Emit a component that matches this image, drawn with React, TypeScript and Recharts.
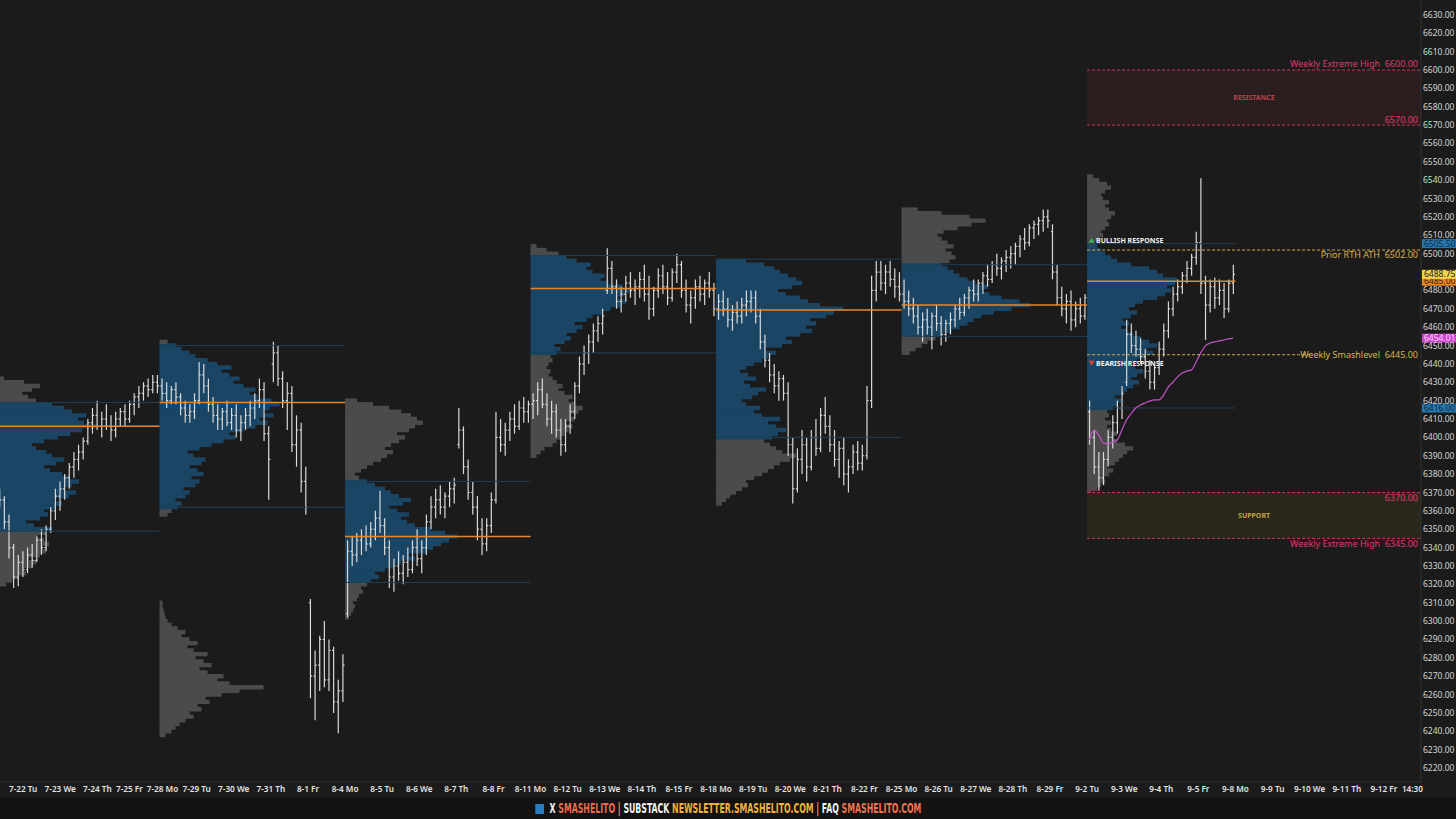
import React from 'react';
import {
  ComposedChart, XAxis, YAxis, Bar, Line,
  ReferenceArea, ReferenceLine, ReferenceDot,
} from 'recharts';

type OHLC = [number, number, number, number];

const BARS_PER_DAY = 8;
const FONT = '"Noto Sans", "Open Sans", sans-serif';

// x axis: one label per session (7-21 is scrolled off the left edge)
const dayLabels = [
  '7-21 Mo', '7-22 Tu', '7-23 We', '7-24 Th', '7-25 Fr',
  '7-28 Mo', '7-29 Tu', '7-30 We', '7-31 Th', '8-1 Fr',
  '8-4 Mo', '8-5 Tu', '8-6 We', '8-7 Th', '8-8 Fr',
  '8-11 Mo', '8-12 Tu', '8-13 We', '8-14 Th', '8-15 Fr',
  '8-18 Mo', '8-19 Tu', '8-20 We', '8-21 Th', '8-22 Fr',
  '8-25 Mo', '8-26 Tu', '8-27 We', '8-28 Th', '8-29 Fr',
  '9-2 Tu', '9-3 We', '9-4 Th', '9-5 Fr',
  '9-8 Mo', '9-9 Tu', '9-10 We', '9-11 Th', '9-12 Fr',
];
const lastTickLabel = '14:30';
const lastTickDay = 38 + 5 / 6.5;

// 6490 sits under the last-price tag, so it is not listed
const yTicks = [
  6220, 6230, 6240, 6250, 6260, 6270, 6280, 6290, 6300, 6310, 6320, 6330, 6340, 6350,
  6360, 6370, 6380, 6390, 6400, 6410, 6420, 6430, 6440, 6450, 6460, 6470, 6480,
  6500, 6510, 6520, 6530, 6540, 6550, 6560, 6570, 6580, 6590, 6600, 6610, 6620, 6630,
];

// bars: [open, high, low, close], one inner list per session
const weekJul21: OHLC[][] = [
  [[6368, 6372, 6362, 6366], [6366, 6368, 6350, 6354], [6354, 6358, 6334, 6340]],
  [[6340, 6342, 6318, 6324], [6324, 6336, 6319, 6332], [6332, 6338, 6324, 6328], [6328, 6340, 6326, 6336], [6336, 6342, 6329, 6333], [6333, 6346, 6332, 6344], [6344, 6350, 6336, 6340], [6340, 6352, 6338, 6350]],
  [[6350, 6362, 6348, 6360], [6360, 6372, 6355, 6368], [6368, 6376, 6360, 6372], [6372, 6380, 6366, 6378], [6378, 6386, 6372, 6384], [6384, 6392, 6378, 6388], [6388, 6396, 6382, 6392], [6392, 6400, 6388, 6398]],
  [[6398, 6410, 6396, 6408], [6408, 6416, 6402, 6412], [6412, 6420, 6404, 6406], [6406, 6414, 6400, 6410], [6410, 6418, 6404, 6406], [6406, 6412, 6398, 6404], [6404, 6414, 6400, 6410], [6410, 6416, 6406, 6414]],
  [[6414, 6418, 6406, 6410], [6410, 6420, 6408, 6418], [6418, 6424, 6412, 6422], [6422, 6428, 6416, 6424], [6424, 6430, 6420, 6428], [6428, 6432, 6422, 6426], [6426, 6434, 6424, 6430], [6430, 6434, 6424, 6428]],
];
const weekJul28: OHLC[][] = [
  [[6428, 6432, 6420, 6424], [6424, 6430, 6416, 6420], [6420, 6428, 6418, 6426], [6426, 6430, 6418, 6422], [6422, 6424, 6412, 6416], [6416, 6420, 6408, 6412], [6412, 6418, 6408, 6414], [6414, 6424, 6410, 6420]],
  [[6420, 6441, 6418, 6434], [6434, 6440, 6424, 6428], [6428, 6432, 6414, 6418], [6418, 6422, 6408, 6412], [6412, 6418, 6404, 6410], [6410, 6416, 6404, 6414], [6414, 6420, 6406, 6408], [6408, 6416, 6404, 6412]],
  [[6412, 6418, 6400, 6404], [6404, 6412, 6398, 6408], [6408, 6416, 6404, 6412], [6412, 6420, 6406, 6416], [6416, 6424, 6410, 6420], [6420, 6432, 6416, 6426], [6426, 6430, 6398, 6402], [6402, 6406, 6366, 6388]],
  [[6440, 6452, 6430, 6446], [6446, 6450, 6428, 6432], [6432, 6436, 6416, 6420], [6420, 6430, 6404, 6424], [6424, 6428, 6392, 6396], [6396, 6412, 6384, 6404], [6404, 6408, 6370, 6376], [6376, 6384, 6358, 6362]],
  [[6310, 6312, 6258, 6270], [6270, 6284, 6246, 6276], [6276, 6292, 6262, 6290], [6290, 6300, 6264, 6268], [6268, 6290, 6262, 6284], [6284, 6286, 6250, 6256], [6256, 6268, 6239, 6262], [6262, 6282, 6256, 6276]],
];
const weekAug4: OHLC[][] = [
  [[6304, 6344, 6302, 6338], [6338, 6346, 6330, 6336], [6336, 6348, 6332, 6344], [6344, 6350, 6336, 6346], [6346, 6352, 6338, 6342], [6342, 6354, 6340, 6350], [6350, 6360, 6344, 6356], [6356, 6371, 6348, 6352]],
  [[6352, 6356, 6336, 6340], [6340, 6344, 6318, 6324], [6324, 6334, 6316, 6330], [6330, 6338, 6322, 6326], [6326, 6336, 6320, 6332], [6332, 6340, 6324, 6328], [6328, 6344, 6326, 6340], [6340, 6350, 6330, 6334]],
  [[6334, 6344, 6326, 6340], [6340, 6358, 6336, 6354], [6354, 6368, 6350, 6362], [6362, 6372, 6356, 6366], [6366, 6374, 6358, 6362], [6362, 6370, 6356, 6368], [6368, 6376, 6362, 6372], [6372, 6378, 6364, 6374]],
  [[6396, 6416, 6394, 6404], [6404, 6406, 6380, 6384], [6384, 6388, 6366, 6370], [6370, 6376, 6358, 6362], [6362, 6368, 6344, 6350], [6350, 6356, 6336, 6342], [6342, 6356, 6338, 6352], [6352, 6370, 6348, 6366]],
  [[6366, 6414, 6364, 6400], [6400, 6410, 6392, 6396], [6396, 6408, 6390, 6404], [6404, 6414, 6398, 6410], [6410, 6418, 6402, 6406], [6406, 6420, 6404, 6416], [6416, 6422, 6408, 6414], [6414, 6420, 6408, 6418]],
];
const weekAug11: OHLC[][] = [
  [[6418, 6424, 6410, 6420], [6420, 6430, 6412, 6426], [6426, 6432, 6416, 6418], [6418, 6424, 6406, 6410], [6410, 6420, 6402, 6414], [6414, 6418, 6400, 6404], [6404, 6410, 6390, 6396], [6396, 6410, 6392, 6406]],
  [[6406, 6418, 6402, 6414], [6414, 6430, 6410, 6428], [6428, 6444, 6424, 6440], [6440, 6450, 6434, 6446], [6446, 6456, 6440, 6452], [6452, 6462, 6446, 6458], [6458, 6466, 6452, 6462], [6462, 6470, 6456, 6466]],
  [[6480, 6503, 6478, 6492], [6492, 6496, 6478, 6482], [6482, 6486, 6470, 6474], [6474, 6482, 6468, 6478], [6478, 6488, 6474, 6484], [6484, 6490, 6476, 6480], [6480, 6486, 6472, 6482], [6482, 6490, 6476, 6486]],
  [[6486, 6494, 6474, 6478], [6478, 6488, 6464, 6470], [6470, 6482, 6466, 6480], [6480, 6492, 6476, 6488], [6488, 6494, 6478, 6482], [6482, 6490, 6472, 6476], [6476, 6492, 6474, 6490], [6490, 6500, 6484, 6494]],
  [[6494, 6496, 6476, 6480], [6480, 6486, 6468, 6472], [6472, 6480, 6462, 6476], [6476, 6486, 6470, 6482], [6482, 6488, 6474, 6478], [6478, 6486, 6472, 6484], [6484, 6490, 6476, 6480], [6480, 6484, 6466, 6470]],
];
const weekAug18: OHLC[][] = [
  [[6470, 6478, 6464, 6474], [6474, 6480, 6466, 6470], [6470, 6476, 6460, 6464], [6464, 6472, 6458, 6468], [6468, 6474, 6462, 6466], [6466, 6476, 6462, 6472], [6472, 6480, 6466, 6474], [6474, 6480, 6468, 6476]],
  [[6476, 6480, 6462, 6466], [6466, 6470, 6448, 6452], [6452, 6456, 6438, 6442], [6442, 6446, 6430, 6434], [6434, 6440, 6424, 6428], [6428, 6436, 6420, 6432], [6432, 6434, 6420, 6424], [6424, 6430, 6390, 6396]],
  [[6396, 6400, 6364, 6372], [6372, 6394, 6370, 6388], [6388, 6404, 6380, 6396], [6396, 6400, 6376, 6384], [6384, 6404, 6382, 6400], [6400, 6410, 6390, 6394], [6394, 6416, 6392, 6412], [6412, 6422, 6402, 6406]],
  [[6406, 6412, 6392, 6396], [6396, 6404, 6384, 6388], [6388, 6398, 6378, 6394], [6394, 6400, 6374, 6380], [6380, 6388, 6370, 6384], [6384, 6396, 6380, 6392], [6392, 6398, 6382, 6386], [6386, 6396, 6382, 6390]],
  [[6390, 6428, 6388, 6420], [6420, 6488, 6416, 6480], [6480, 6496, 6474, 6490], [6490, 6496, 6480, 6484], [6484, 6494, 6478, 6490], [6490, 6496, 6482, 6486], [6486, 6492, 6476, 6482], [6482, 6490, 6474, 6478]],
];
const weekAug25: OHLC[][] = [
  [[6478, 6486, 6470, 6474], [6474, 6480, 6466, 6470], [6470, 6476, 6462, 6466], [6466, 6472, 6456, 6460], [6460, 6468, 6452, 6464], [6464, 6470, 6456, 6460], [6460, 6468, 6448, 6466], [6466, 6472, 6458, 6462]],
  [[6462, 6466, 6450, 6456], [6456, 6464, 6452, 6462], [6462, 6468, 6456, 6464], [6464, 6472, 6460, 6470], [6470, 6476, 6464, 6468], [6468, 6478, 6466, 6476], [6476, 6482, 6470, 6480], [6480, 6486, 6474, 6478]],
  [[6478, 6486, 6474, 6484], [6484, 6490, 6478, 6488], [6488, 6494, 6482, 6486], [6486, 6496, 6484, 6494], [6494, 6500, 6488, 6492], [6492, 6498, 6486, 6496], [6496, 6502, 6490, 6498], [6498, 6504, 6492, 6500]],
  [[6500, 6506, 6494, 6504], [6504, 6510, 6498, 6508], [6508, 6514, 6502, 6506], [6506, 6516, 6504, 6514], [6514, 6518, 6508, 6516], [6516, 6520, 6510, 6518], [6518, 6524, 6512, 6520], [6520, 6524, 6514, 6518]],
  [[6512, 6516, 6486, 6490], [6490, 6494, 6472, 6476], [6476, 6482, 6466, 6470], [6470, 6478, 6462, 6474], [6474, 6480, 6458, 6464], [6464, 6474, 6460, 6470], [6470, 6476, 6462, 6466], [6466, 6478, 6464, 6476]],
];
const weekSep2: OHLC[][] = [
  [[6414, 6420, 6396, 6400], [6400, 6404, 6380, 6384], [6384, 6392, 6371, 6378], [6378, 6392, 6374, 6388], [6388, 6404, 6384, 6400], [6400, 6412, 6394, 6408], [6408, 6420, 6402, 6416], [6416, 6428, 6410, 6424]],
  [[6430, 6464, 6428, 6456], [6456, 6462, 6446, 6450], [6450, 6458, 6444, 6448], [6448, 6454, 6440, 6444], [6444, 6448, 6432, 6436], [6436, 6442, 6426, 6430], [6430, 6440, 6426, 6438], [6438, 6452, 6434, 6448]],
  [[6448, 6462, 6444, 6458], [6458, 6474, 6454, 6470], [6470, 6482, 6466, 6478], [6478, 6486, 6474, 6482], [6482, 6490, 6478, 6488], [6488, 6496, 6484, 6492], [6492, 6500, 6488, 6498], [6498, 6512, 6494, 6506]],
  [[6506, 6541, 6478, 6484], [6484, 6488, 6453, 6472], [6472, 6486, 6468, 6482], [6482, 6487, 6470, 6476], [6476, 6486, 6472, 6480], [6480, 6484, 6465, 6470], [6470, 6486, 6468, 6484], [6484, 6494, 6478, 6488.75]],
];

const weeks = [weekJul21, weekJul28, weekAug4, weekAug11, weekAug18, weekAug25, weekSep2];
const weekStartDay = [0, 5, 10, 15, 20, 25, 30];
const weekLength = [5, 5, 5, 5, 5, 5, 4];

// anchored vwap from the 9-2 open, one value per bar
const vwapSep2 = [
  6398.6, 6404.0, 6401.3, 6397.0, 6396.5, 6397.5, 6398.6, 6404.0,
  6409.5, 6413.0, 6416.0, 6417.6, 6418.7, 6419.8, 6420.4, 6420.4,
  6423.0, 6427.4, 6430.0, 6432.9, 6435.0, 6436.1, 6436.7, 6441.0,
  6446.0, 6449.8, 6451.4, 6452.0, 6452.5, 6453.0, 6453.6, 6454.01,
];

// weekly volume profiles, 2-point rows from the low price upward
const PROFILE_STEP = 2;
const volJul21 = [25, 32, 38, 45, 52, 48, 58, 62, 55, 66, 72, 68, 75, 70, 64, 72, 78, 60, 52, 66, 74, 70, 82, 88, 80, 95, 102, 90, 98, 105, 96, 88, 76, 70, 82, 90, 78, 72, 62, 58, 70, 84, 96, 108, 122, 110, 104, 112, 98, 90, 78, 62, 54, 48, 58, 66, 50, 30];
const volJul28 = [8, 12, 18, 22, 16, 26, 30, 24, 36, 40, 32, 44, 38, 30, 42, 46, 34, 28, 40, 52, 64, 76, 70, 84, 96, 108, 100, 114, 104, 110, 120, 112, 98, 90, 96, 84, 74, 80, 70, 62, 72, 58, 48, 36, 30, 22, 16, 8];
const volJul28Low = [6, 12, 16, 20, 26, 34, 30, 42, 38, 50, 46, 62, 80, 104, 70, 58, 64, 48, 40, 52, 44, 36, 48, 34, 28, 38, 30, 22, 26, 18, 12, 8, 6, 5, 4, 3, 3];
const volAug4 = [4, 6, 8, 10, 8, 12, 14, 18, 16, 22, 26, 34, 30, 40, 48, 56, 70, 64, 82, 88, 96, 104, 112, 100, 86, 70, 62, 56, 64, 52, 44, 58, 66, 54, 46, 40, 30, 22, 14, 10, 16, 22, 28, 36, 42, 48, 40, 46, 54, 60, 52, 64, 70, 78, 72, 66, 56, 44, 28, 12];
const volAug11 = [6, 10, 14, 22, 26, 30, 34, 38, 42, 36, 44, 40, 48, 52, 44, 38, 42, 34, 28, 32, 26, 22, 18, 20, 16, 18, 22, 20, 26, 30, 24, 34, 40, 36, 46, 52, 44, 56, 62, 72, 80, 90, 96, 88, 94, 100, 92, 78, 70, 74, 62, 56, 60, 46, 36, 28, 16, 6];
const volAug18 = [6, 10, 14, 20, 26, 32, 30, 38, 46, 52, 58, 64, 74, 80, 66, 60, 54, 48, 56, 62, 70, 60, 52, 64, 46, 38, 44, 30, 26, 36, 42, 50, 34, 28, 40, 32, 24, 30, 38, 46, 54, 60, 50, 66, 76, 70, 84, 96, 90, 100, 94, 110, 118, 127, 104, 92, 84, 70, 62, 76, 86, 80, 72, 64, 58, 48, 30];
const volAug25 = [8, 14, 20, 26, 34, 42, 50, 58, 66, 72, 80, 92, 110, 129, 118, 100, 88, 80, 86, 74, 66, 58, 52, 46, 40, 48, 54, 50, 44, 52, 46, 40, 36, 42, 56, 70, 84, 68, 40, 16];
const volSep2 = [4, 10, 14, 18, 16, 22, 26, 20, 28, 32, 36, 40, 46, 38, 30, 26, 30, 24, 20, 24, 18, 22, 20, 26, 30, 34, 28, 36, 40, 46, 52, 44, 50, 56, 48, 42, 50, 58, 66, 60, 70, 62, 54, 46, 40, 34, 42, 36, 44, 50, 42, 48, 56, 70, 78, 84, 80, 88, 90, 76, 70, 62, 44, 30, 24, 18, 14, 10, 8, 12, 16, 14, 18, 22, 20, 24, 28, 22, 18, 22, 16, 14, 18, 24, 20, 12, 6];

const profileVols = [volJul21, volJul28, volJul28Low, volAug4, volAug11, volAug18, volAug25, volSep2];
const profileLow = [6318, 6358, 6238, 6302, 6390, 6364, 6446, 6370];
const profileWeek = [0, 1, 1, 2, 3, 4, 5, 6];

// weekly value area and point of control
const weekPoc = [6406, 6419, 6346, 6481, 6469.3, 6472, 6485];
const weekVah = [6419, 6450, 6376, 6499, 6497, 6494, 6505.5];
const weekVal = [6349, 6362, 6321, 6446, 6400, 6455, 6416];

// volume units to bar slots (1 unit ~ 1px of a 37px session)
const VOL_TO_SLOTS = BARS_PER_DAY / 37.1;

const slot = (day: number) => day * BARS_PER_DAY;
const X_MIN = 5.6;
const X_MAX = slot(39);

const data: any[] = [];
let sepIdx = 0;
weeks.forEach((wk, w) => {
  wk.forEach((session, d) => {
    const offset = BARS_PER_DAY - session.length;
    session.forEach(([o, h, l, c], i) => {
      const row: any = { x: slot(weekStartDay[w] + d) + offset + i + 0.5, range: [l, h], o, c };
      if (w === 6) row.vwap = vwapSep2[sepIdx++];
      data.push(row);
    });
  });
});

const xTicks = [...dayLabels.map((_, d) => slot(d)).filter((s) => s > X_MIN), slot(lastTickDay)];
const fmtX = (v: number) => (Math.abs(v - slot(lastTickDay)) < 0.01 ? lastTickLabel : dayLabels[Math.round(v / BARS_PER_DAY)]);

// the platform spreads the first-week labels a little to the right of the session starts
const labelNudge: Record<number, number> = { 1: 12, 2: 12, 3: 12, 4: 7, 5: 3 };

function XTick(props: any) {
  const { x, y, payload } = props;
  const day = Math.round(payload.value / BARS_PER_DAY);
  const nudge = Number.isInteger(payload.value / BARS_PER_DAY) ? labelNudge[day] || 0 : 0;
  return (
    <text x={x + nudge} y={y} dy="0.71em" textAnchor="middle" fill="#e4e4e4" fontSize={8.2} fontWeight={600} fontFamily={FONT}>
      {fmtX(payload.value)}
    </text>
  );
}

function OhlcShape(props: any) {
  const { x, y, width, height, payload } = props;
  if (!payload) return null;
  const [lo, hi] = payload.range;
  const top = Math.min(y, y + height);
  const bottom = Math.max(y, y + height);
  const k = (bottom - top) / (hi - lo);
  const cx = x + width / 2;
  const yo = top + (hi - payload.o) * k;
  const yc = top + (hi - payload.c) * k;
  return (
    <g stroke="#d9d9d9" strokeWidth={1.2}>
      <line x1={cx} x2={cx} y1={top} y2={bottom} />
      <line x1={cx - 1.6} x2={cx} y1={yo} y2={yo} />
      <line x1={cx} x2={cx + 1.6} y1={yc} y2={yc} />
    </g>
  );
}

const priceTag = (text: string, bg: string, fg: string) => (props: any) => {
  const vb = props.viewBox;
  const x = vb.x + vb.width + 1;
  return (
    <g>
      <rect x={x} y={vb.y - 4.5} width={34} height={9} fill={bg} />
      <text x={x + 2} y={vb.y + 3} fontSize={8.5} fill={fg} fontFamily={FONT}>{text}</text>
    </g>
  );
};

const lineNote = (text: string, color: string, dy: number) => (props: any) => {
  const vb = props.viewBox;
  return (
    <text x={vb.x + vb.width - 3} y={vb.y + dy} textAnchor="end" fontSize={9} fill={color} fontFamily={FONT}>
      {text}
    </text>
  );
};

const zoneNote = (text: string, color: string) => (props: any) => {
  const vb = props.viewBox;
  return (
    <text x={vb.x + vb.width / 2} y={vb.y + vb.height / 2 + 2.5} textAnchor="middle" fontSize={7} fontWeight={700} fill={color} fontFamily={FONT}>
      {text}
    </text>
  );
};

const responseNote = (text: string, up: boolean) => (props: any) => {
  const { cx, cy } = props;
  const tri = up
    ? `M${cx + 1.5},${cy + 2.5} L${cx + 4.5},${cy - 2.5} L${cx + 7.5},${cy + 2.5} Z`
    : `M${cx + 1.5},${cy - 2.5} L${cx + 4.5},${cy + 2.5} L${cx + 7.5},${cy - 2.5} Z`;
  return (
    <g>
      <path d={tri} fill={up ? '#3fae5a' : '#e0443a'} />
      <text x={cx + 9} y={cy + 2.5} fontSize={7} fontWeight={700} fill="#f2f2f2" fontFamily={FONT}>{text}</text>
    </g>
  );
};

const RED = '#e2386c';
const RED_LINE = '#c8375f';
const GOLD = '#d9b44f';
const GOLD_LINE = '#cfae48';
const VA_BLUE = '#1a4564';
const OUT_GRAY = '#4b4b4b';
const EDGE_BLUE = '#1d3f58';
const POC_ORANGE = '#e8872a';

export default function App() {
  const sepStart = slot(30);
  return (
    <div style={{ position: 'absolute', left: 0, top: 0, width: 1456, height: 819, background: '#1b1b1b', overflow: 'hidden' }}>
      <ComposedChart width={1456} height={797} data={data} margin={{ top: 0, right: 0, bottom: 0, left: 0 }}>
        <XAxis
          dataKey="x" type="number" domain={[X_MIN, X_MAX]} allowDataOverflow
          ticks={xTicks} interval={0}
          height={15} tickSize={0} tickMargin={4}
          axisLine={{ stroke: '#303030' }} tickLine={false}
          tick={<XTick />}
        />
        <YAxis
          orientation="right" type="number" domain={[6212.4, 6638.1]} allowDataOverflow
          ticks={yTicks} interval={0} tickFormatter={(v: number) => v.toFixed(2)}
          width={35} tickSize={0} tickMargin={2}
          axisLine={{ stroke: '#333333' }} tickLine={false}
          tick={{ fill: '#d6d6d6', fontSize: 8.5, fontFamily: FONT, textAnchor: 'start' }}
        />

        {/* volume profiles (rows overlap a hair to avoid seams) */}
        {profileVols.map((vols, p) => {
          const w = profileWeek[p];
          const x0 = slot(weekStartDay[w]);
          return vols.map((v, i) => {
            const price = profileLow[p] + i * PROFILE_STEP;
            const inVa = price >= weekVal[w] && price <= weekVah[w];
            return (
              <ReferenceArea
                key={`pf-${p}-${i}`}
                x1={x0} x2={x0 + v * VOL_TO_SLOTS}
                y1={price - PROFILE_STEP / 2 - 0.2} y2={price + PROFILE_STEP / 2 + 0.2}
                fill={inVa ? VA_BLUE : OUT_GRAY} fillOpacity={1} stroke="none"
                ifOverflow="hidden"
              />
            );
          });
        })}

        {/* resistance / support zones */}
        <ReferenceArea x1={sepStart} x2={X_MAX} y1={6570} y2={6600} fill="#2c1e1f" fillOpacity={1} stroke="none" label={zoneNote('RESISTANCE', '#b8444a')} />
        <ReferenceArea x1={sepStart} x2={X_MAX} y1={6345} y2={6370} fill="#2a271d" fillOpacity={1} stroke="none" label={zoneNote('SUPPORT', '#c0a23f')} />

        {/* value area edges and POC per week */}
        {weekStartDay.map((d, w) => {
          const a = slot(d);
          const b = slot(d + weekLength[w]);
          return [
            <ReferenceLine key={`vah-${w}`} segment={[{ x: a, y: weekVah[w] }, { x: b, y: weekVah[w] }]} stroke={EDGE_BLUE} strokeWidth={1} ifOverflow="hidden" />,
            <ReferenceLine key={`val-${w}`} segment={[{ x: a, y: weekVal[w] }, { x: b, y: weekVal[w] }]} stroke={EDGE_BLUE} strokeWidth={1} ifOverflow="hidden" />,
            <ReferenceLine key={`poc-${w}`} segment={[{ x: a, y: weekPoc[w] }, { x: b, y: weekPoc[w] }]} stroke={POC_ORANGE} strokeWidth={1.5} ifOverflow="hidden" />,
          ];
        })}

        <Bar dataKey="range" barSize={3} shape={OhlcShape} isAnimationActive={false} />
        <Line dataKey="vwap" type="monotone" stroke="#c552c8" strokeWidth={1.2} dot={false} connectNulls={false} isAnimationActive={false} />

        {/* key levels */}
        <ReferenceLine segment={[{ x: sepStart, y: 6600 }, { x: X_MAX, y: 6600 }]} stroke={RED_LINE} strokeDasharray="3 2" />
        <ReferenceLine segment={[{ x: sepStart, y: 6570 }, { x: X_MAX, y: 6570 }]} stroke={RED_LINE} strokeDasharray="3 2" />
        <ReferenceLine segment={[{ x: sepStart, y: 6502 }, { x: X_MAX, y: 6502 }]} stroke={GOLD_LINE} strokeDasharray="3 2" />
        <ReferenceLine segment={[{ x: sepStart, y: 6445 }, { x: slot(36.05), y: 6445 }]} stroke={GOLD_LINE} strokeDasharray="3 2" />
        <ReferenceLine segment={[{ x: sepStart, y: 6370 }, { x: X_MAX, y: 6370 }]} stroke={RED_LINE} strokeDasharray="3 2" />
        <ReferenceLine segment={[{ x: sepStart, y: 6345 }, { x: X_MAX, y: 6345 }]} stroke={RED_LINE} strokeDasharray="3 2" />

        <ReferenceLine y={6600} stroke="none" label={lineNote('Weekly Extreme High\u00a0\u00a06600.00', RED, -3)} />
        <ReferenceLine y={6570} stroke="none" label={lineNote('6570.00', RED, -2.5)} />
        <ReferenceLine y={6502} stroke="none" label={lineNote('Prior RTH ATH\u00a0\u00a06502.00', GOLD, 8)} />
        <ReferenceLine y={6445} stroke="none" label={lineNote('Weekly Smashlevel\u00a0\u00a06445.00', GOLD, 3.5)} />
        <ReferenceLine y={6370} stroke="none" label={lineNote('6370.00', RED, 9)} />
        <ReferenceLine y={6345} stroke="none" label={lineNote('Weekly Extreme High\u00a0\u00a06345.00', RED, 9)} />

        <ReferenceDot x={sepStart} y={6507.3} r={1} ifOverflow="visible" shape={responseNote('BULLISH RESPONSE', true)} />
        <ReferenceDot x={sepStart} y={6440.3} r={1} ifOverflow="visible" shape={responseNote('BEARISH RESPONSE', false)} />

        {/* price tags on the axis */}
        <ReferenceLine y={6505.5} stroke="none" label={priceTag('6505.50', '#2676ad', '#0e2c44')} />
        <ReferenceLine y={6485} stroke="none" label={priceTag('6485.00', '#e8861f', '#3a1d00')} />
        <ReferenceLine y={6488.75} stroke="none" label={priceTag('6488.75', '#f3d447', '#222')} />
        <ReferenceLine y={6454.01} stroke="none" label={priceTag('6454.01', '#d046cf', '#f6d6f6')} />
        <ReferenceLine y={6416} stroke="none" label={priceTag('6416.00', '#2676ad', '#0e2c44')} />
      </ComposedChart>

      <div style={{ position: 'absolute', left: 0, top: 797, width: 1456, height: 22, background: '#121212', display: 'flex', alignItems: 'center', justifyContent: 'center' }}>
        <div style={{ fontFamily: '"Liberation Sans Narrow", "DejaVu Sans Condensed", sans-serif', fontWeight: 700, fontSize: 14, whiteSpace: 'pre', transform: 'scaleX(0.62)', lineHeight: '22px' }}>
          <span style={{ display: 'inline-block', width: 14, height: 10, background: '#2b7dbd', marginRight: 9, verticalAlign: '-1px' }} />
          <span style={{ color: '#f2f2f2' }}>X </span>
          <span style={{ color: '#ef6a4f' }}>SMASHELITO</span>
          <span style={{ color: '#f0a23c' }}> | </span>
          <span style={{ color: '#f2f2f2' }}>SUBSTACK </span>
          <span style={{ color: '#f3b23a' }}>NEWSLETTER.SMASHELITO.COM</span>
          <span style={{ color: '#f0a23c' }}> | </span>
          <span style={{ color: '#f2f2f2' }}>FAQ </span>
          <span style={{ color: '#f07452' }}>SMASHELITO.COM</span>
        </div>
      </div>
    </div>
  );
}
